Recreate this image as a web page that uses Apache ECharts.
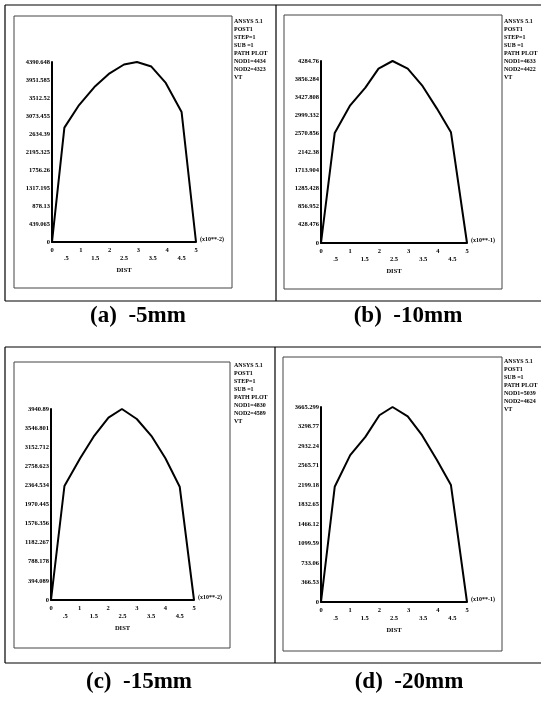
<!DOCTYPE html>
<html>
<head>
<meta charset="utf-8">
<script src="https://cdn.jsdelivr.net/npm/echarts@6/dist/echarts.min.js"></script>
<style>
html,body{margin:0;padding:0;background:#fff;}
#chart{width:542px;height:703px;}
</style>
</head>
<body>
<div id="chart"></div>
<script>
// ---------- data ----------
var xTickLabels = ['0', '.5', '1', '1.5', '2', '2.5', '3', '3.5', '4', '4.5', '5'];

var distA = [0, 0.43, 0.94, 1.5, 2.0, 2.5, 2.95, 3.45, 3.95, 4.5, 5.0];
var valA  = [0, 2790, 3340, 3800, 4115, 4330, 4390.65, 4280, 3880, 3170, 0];
var yMaxA = 4390.65;
var yLabelsA = ['0', '439.065', '878.13', '1317.195', '1756.26', '2195.325', '2634.39', '3073.455', '3512.52', '3951.585', '4390.648'];
var infoA = ['ANSYS 5.1', 'POST1', 'STEP=1', 'SUB =1', 'PATH PLOT', 'NOD1=4434', 'NOD2=4323', 'VT'];

var distB = [0, 0.47, 1.0, 1.52, 1.97, 2.45, 2.97, 3.46, 3.97, 4.45, 5.0];
var valB  = [0, 2590, 3242, 3659, 4106, 4284.76, 4106, 3713, 3164, 2610, 0];
var yMaxB = 4284.76;
var yLabelsB = ['0', '428.476', '856.952', '1285.428', '1713.904', '2142.38', '2570.856', '2999.332', '3427.808', '3856.284', '4284.76'];
var infoB = ['ANSYS 5.1', 'POST1', 'STEP=1', 'SUB =1', 'PATH PLOT', 'NOD1=4633', 'NOD2=4422', 'VT'];

var distC = [0, 0.47, 1.02, 1.49, 2.01, 2.48, 3.0, 3.53, 4.0, 4.5, 5.0];
var valC  = [0, 2352, 2924, 3370, 3762, 3940.89, 3735, 3370, 2924, 2338, 0];
var yMaxC = 3940.89;
var yLabelsC = ['0', '394.089', '788.178', '1182.267', '1576.356', '1970.445', '2364.534', '2758.623', '3152.712', '3546.801', '3940.89'];
var infoC = ['ANSYS 5.1', 'POST1', 'STEP=1', 'SUB =1', 'PATH PLOT', 'NOD1=4830', 'NOD2=4589', 'VT'];

var distD = [0, 0.47, 1.0, 1.52, 2.0, 2.45, 2.97, 3.46, 3.97, 4.45, 5.0];
var valD  = [0, 2166, 2760, 3103, 3510, 3665.3, 3491, 3135, 2667, 2198, 0];
var yMaxD = 3665.3;
var yLabelsD = ['0', '366.53', '733.06', '1099.59', '1466.12', '1832.65', '2199.18', '2565.71', '2932.24', '3298.77', '3665.299'];
var infoD = ['ANSYS 5.1', 'POST1', 'SUB =1', 'PATH PLOT', 'NOD1=5039', 'NOD2=4624', 'VT'];

var captions = ['(a)  -5mm', '(b)  -10mm', '(c)  -15mm', '(d)  -20mm'];
var unitLabels = ['(x10**-2)', '(x10**-1)', '(x10**-2)', '(x10**-1)'];

// ---------- layout ----------
var panels = [
  {dist: distA, val: valA, max: yMaxA, ylab: yLabelsA, info: infoA, grid: {left: 52, top: 62, width: 144, height: 180}, infoPos: [234, 17], frame: [14, 16, 232, 288], cap: [138, 316]},
  {dist: distB, val: valB, max: yMaxB, ylab: yLabelsB, info: infoB, grid: {left: 321, top: 61, width: 146, height: 182}, infoPos: [504, 17], frame: [284, 15, 502, 289], cap: [408, 316]},
  {dist: distC, val: valC, max: yMaxC, ylab: yLabelsC, info: infoC, grid: {left: 51, top: 409, width: 143, height: 191}, infoPos: [234, 361], frame: [14, 362, 230, 648], cap: [139, 682]},
  {dist: distD, val: valD, max: yMaxD, ylab: yLabelsD, info: infoD, grid: {left: 321, top: 407, width: 146, height: 195}, infoPos: [504, 357], frame: [283, 357, 502, 651], cap: [409, 682]}
];

var tickFont = {fontFamily: 'Liberation Serif', fontWeight: 'bold', fontSize: 6.5, color: '#000'};

var grids = [], xAxes = [], yAxes = [], series = [], graphics = [];

panels.forEach(function (p, i) {
  grids.push(Object.assign({containLabel: false, outerBoundsMode: 'none'}, p.grid));
  xAxes.push({
    type: 'value', gridIndex: i, min: 0, max: 5, interval: 0.5,
    name: 'DIST', nameLocation: 'middle', nameGap: 25,
    nameTextStyle: tickFont,
    axisLine: {show: true, onZero: false, lineStyle: {color: '#000', width: 2}},
    axisTick: {show: false},
    splitLine: {show: false},
    axisLabel: Object.assign({
      margin: 4, lineHeight: 8,
      formatter: function (v) {
        var idx = Math.round(v * 2);
        var s = xTickLabels[idx];
        return idx % 2 ? '\n' + s : s;
      }
    }, tickFont)
  });
  var step = p.max / 10;
  yAxes.push({
    type: 'value', gridIndex: i, min: 0, max: p.max, interval: step,
    axisLine: {show: true, onZero: false, lineStyle: {color: '#000', width: 2}},
    axisTick: {show: false},
    splitLine: {show: false},
    axisLabel: Object.assign({
      margin: 2,
      formatter: function (v) {
        var idx = Math.round(v / step);
        return p.ylab[idx] !== undefined ? p.ylab[idx] : '';
      }
    }, tickFont)
  });
  series.push({
    type: 'line', xAxisIndex: i, yAxisIndex: i, symbol: 'none', animation: false,
    lineStyle: {color: '#000', width: 2},
    data: p.dist.map(function (d, k) { return [d, p.val[k]]; })
  });
  // inner frame
  graphics.push({type: 'rect', shape: {x: p.frame[0], y: p.frame[1], width: p.frame[2] - p.frame[0], height: p.frame[3] - p.frame[1]},
    style: {fill: 'none', stroke: '#444', lineWidth: 1}});
  // info block
  graphics.push({type: 'text', x: p.infoPos[0], y: p.infoPos[1],
    style: {text: p.info.join('\n'), font: 'bold 6px "Liberation Serif"', lineHeight: 8, fill: '#000', textVerticalAlign: 'top'}});
  // unit label
  graphics.push({type: 'text', x: p.grid.left + p.grid.width + 4, y: p.grid.top + p.grid.height - 3,
    style: {text: unitLabels[i], font: 'bold 6px "Liberation Serif"', fill: '#000', textVerticalAlign: 'middle'}});
  // caption
  graphics.push({type: 'text', x: p.cap[0], y: p.cap[1],
    style: {text: captions[i], font: 'bold 23px "Liberation Serif"', fill: '#000', textAlign: 'center', textVerticalAlign: 'middle'}});
});

// outer table lines
var outerLines = [
  [5, 5, 541, 5], [5, 5, 5, 301], [5, 301, 541, 301], [276, 5, 276, 301],
  [5, 347, 541, 347], [5, 347, 5, 663], [5, 663, 541, 663], [275, 347, 275, 663]
];
outerLines.forEach(function (l) {
  graphics.push({type: 'line', shape: {x1: l[0], y1: l[1], x2: l[2], y2: l[3]}, style: {stroke: '#000', lineWidth: 1.2}});
});

var chart = echarts.init(document.getElementById('chart'), null, {renderer: 'canvas'});
chart.setOption({
  backgroundColor: '#fff',
  animation: false,
  grid: grids,
  xAxis: xAxes,
  yAxis: yAxes,
  series: series,
  graphic: graphics
});
</script>
</body>
</html>
